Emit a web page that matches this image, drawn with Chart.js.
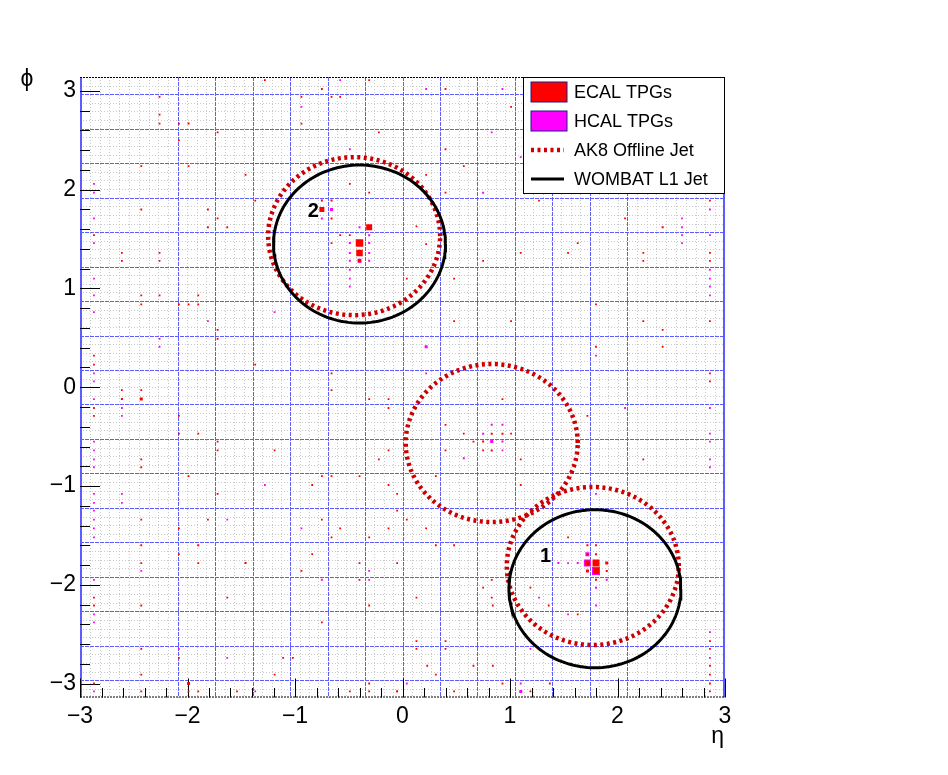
<!DOCTYPE html>
<html>
<head>
<meta charset="utf-8">
<script src="https://cdn.jsdelivr.net/npm/chart.js@4.4.1/dist/chart.umd.min.js"></script>
<style>
  html, body { margin: 0; background: #fff; }
  canvas { display: block; }
</style>
</head>
<body>
<canvas id="evt" width="948" height="775"></canvas>
<script>
// TPG hits: [eta, phi, Et]
const ecalHits = [
  [-1.28, 3.11, 1], [-0.75, 3.02, 1], [-0.31, 3.11, 1],
  [-2.26, 2.94, 1], [-0.94, 2.94, 1], [-0.66, 2.94, 1], [-0.58, 2.94, 1],
  [-2.26, 2.76, 1], [-2.26, 2.67, 1], [-2.08, 2.67, 1], [-1.99, 2.67, 2], [-0.94, 2.67, 1],
  [-1.72, 2.58, 1], [-0.22, 2.58, 1], [-2.08, 2.50, 1],
  [-2.43, 2.24, 1], [-1.99, 2.24, 1], [-1.46, 2.15, 1], [-0.49, 2.06, 1], [-0.31, 1.97, 1],
  [-1.37, 1.89, 1], [-2.43, 1.80, 1], [-1.81, 1.80, 1], [-1.72, 1.71, 1], [-1.81, 1.62, 1], [-1.63, 1.62, 1],
  [-2.87, 1.54, 1], [-2.61, 1.36, 1], [-2.26, 1.36, 1], [-2.61, 1.28, 1], [-2.26, 1.28, 1],
  [-2.43, 0.93, 1], [-2.26, 0.93, 1], [-1.90, 0.93, 1], [-2.43, 0.84, 1], [-2.08, 0.84, 1], [-1.99, 0.84, 1], [-1.90, 0.84, 1],
  [-1.72, 0.58, 1], [-1.72, 0.49, 1], [-2.87, 0.32, 1], [-2.87, 0.23, 1], [-1.37, 0.23, 1], [-0.66, 0.14, 1],
  // around jet 2
  [-0.75, 1.89, 2], [-0.66, 1.89, 2], [-0.75, 1.80, 5], [-0.66, 1.71, 2], [-0.31, 1.62, 6],
  [-0.58, 1.54, 1], [-0.49, 1.54, 1], [-0.66, 1.46, 1], [-0.40, 1.46, 7.5], [-0.40, 1.36, 6.5], [-0.40, 1.28, 3],
  // upper right
  [0.40, 3.02, 1], [1.01, 2.84, 1], [0.40, 2.41, 1], [0.57, 2.24, 1], [0.22, 2.15, 1], [0.40, 1.97, 1],
  [1.27, 1.89, 1], [2.86, 1.89, 1], [2.07, 1.71, 1], [0.13, 1.63, 1], [2.42, 1.62, 2], [0.22, 1.45, 1], [1.63, 1.46, 1],
  [1.10, 1.36, 1], [1.54, 1.36, 1], [2.24, 1.36, 1], [2.86, 1.36, 1], [0.75, 1.28, 1], [2.24, 1.28, 1], [2.86, 1.28, 1],
  [0.04, 1.10, 1], [0.48, 1.10, 1], [1.80, 0.84, 1], [0.48, 0.67, 1], [1.01, 0.67, 1], [2.24, 0.67, 1], [2.86, 0.67, 1],
  [2.42, 0.58, 1], [1.80, 0.41, 1], [2.42, 0.41, 1], [2.86, 0.14, 1], [2.86, 0.06, 1],
  // lower left
  [-2.61, -0.03, 1], [-2.43, -0.03, 1], [-2.61, -0.12, 2], [-2.43, -0.12, 3], [-0.66, -0.03, 1],
  [-0.31, -0.12, 1], [-0.13, -0.12, 1], [-2.87, -0.21, 1], [-0.13, -0.21, 1], [-2.87, -0.29, 1], [-2.08, -0.29, 1],
  [-2.08, -0.47, 1], [-1.90, -0.47, 1], [-1.72, -0.55, 1], [-1.72, -0.64, 1], [-1.19, -0.64, 1], [-0.13, -0.64, 1],
  [-2.43, -0.73, 1], [-2.43, -0.81, 1], [-0.22, -0.73, 1], [-1.99, -0.90, 1], [-0.75, -0.90, 1], [-0.66, -0.90, 1],
  [-0.40, -0.90, 1], [-0.84, -0.99, 1], [-0.13, -0.99, 1], [-1.72, -1.08, 1], [-0.05, -1.08, 1], [-0.05, -1.25, 1],
  [-2.43, -1.34, 1], [-1.81, -1.34, 1], [-0.75, -1.34, 1], [-2.08, -1.43, 1], [-0.58, -1.43, 1], [-0.13, -1.43, 1],
  [-0.66, -1.52, 1], [-0.31, -1.52, 1], [-2.43, -1.60, 1], [-1.90, -1.60, 2], [-2.08, -1.69, 1], [-0.84, -1.69, 1],
  [-2.43, -1.78, 1], [-1.90, -1.78, 1], [-1.46, -1.78, 2], [-0.40, -1.78, 1], [-0.05, -1.78, 1], [-0.94, -1.86, 1],
  [-0.40, -1.95, 1], [-2.87, -2.13, 1], [-2.87, -2.21, 1], [-1.63, -2.13, 1], [-2.43, -2.21, 1], [-0.31, -2.21, 1],
  [-0.75, -2.38, 1], [-2.43, -2.65, 1], [-2.08, -2.74, 1], [-1.11, -2.74, 1], [-1.02, -2.74, 1], [-2.43, -2.91, 1],
  [-1.19, -2.91, 1], [-1.99, -3.00, 3], [-2.87, -3.00, 1], [-0.31, -3.00, 1], [-2.43, -3.08, 1], [-1.99, -3.08, 1],
  [-1.90, -3.08, 1], [-1.54, -3.08, 1], [-0.49, -3.08, 1], [-0.31, -3.08, 1], [-0.05, -3.08, 1],
  // middle cluster
  [0.83, -0.47, 2], [0.93, -0.47, 2], [1.01, -0.47, 1], [0.75, -0.55, 2], [0.66, -0.55, 1], [0.83, -0.64, 2], [0.75, -0.64, 1],
  // lower right
  [0.93, -0.12, 1], [1.72, -0.29, 1], [0.40, -0.38, 1], [0.57, -0.47, 1], [0.40, -0.64, 1], [1.10, -0.73, 1],
  [2.24, -0.73, 1], [0.31, -0.90, 1], [1.10, -0.99, 1], [0.04, -1.34, 1], [0.22, -1.43, 1], [0.31, -1.60, 1],
  [0.48, -1.60, 1], [1.54, -1.52, 1], [0.83, -1.95, 1], [0.75, -2.03, 1], [0.83, -2.13, 1], [1.19, -2.03, 1],
  [1.36, -2.21, 1], [0.13, -2.13, 1], [0.84, -2.21, 1], [1.63, -2.30, 1], [0.13, -2.57, 1], [0.13, -2.65, 1],
  [0.40, -2.57, 1], [0.40, -2.65, 1], [0.23, -2.82, 1], [0.31, -2.91, 1], [0.66, -2.82, 1], [0.84, -2.82, 1],
  [1.37, -3.00, 1], [0.48, -3.08, 1], [0.93, -3.00, 1], [1.19, -3.08, 1], [-0.05, -3.08, 1],
  [2.86, -2.57, 1], [2.86, -2.65, 1], [2.86, -2.82, 1], [2.86, -2.91, 1], [2.86, -3.00, 1], [2.86, -3.08, 1],
  // around jet 1
  [1.72, -1.60, 2], [1.80, -1.60, 1], [1.72, -1.69, 2], [1.80, -1.69, 2], [1.72, -1.78, 5], [1.80, -1.78, 7],
  [1.90, -1.78, 3], [1.72, -1.86, 3], [1.80, -1.86, 6], [1.90, -1.86, 2], [1.80, -1.95, 2]
];

const hcalHits = [
  [-0.58, 3.11, 1], [-0.94, 2.84, 1], [-0.49, 2.41, 1],
  [-2.87, 2.06, 1], [-2.87, 1.97, 1], [-2.87, 1.71, 1], [-2.87, 1.46, 1],
  [-2.87, 1.10, 1], [-2.87, 0.93, 1], [-2.87, 0.76, 1], [-1.81, 0.67, 1], [-1.19, 0.76, 1],
  [-2.26, 0.49, 1], [-2.26, 0.41, 1], [-2.87, 0.14, 1], [-2.87, 0.06, 1],
  // around jet 2
  [-0.66, 1.80, 3], [-0.75, 1.71, 2], [-0.40, 1.62, 2], [-0.31, 1.54, 2],
  [-0.49, 1.46, 2], [-0.31, 1.46, 2], [-0.49, 1.36, 2], [-0.31, 1.36, 2],
  [-0.40, 1.28, 4], [-0.49, 1.28, 2], [-0.31, 1.28, 2], [-0.49, 1.19, 1], [-0.49, 1.10, 1], [-0.49, 1.02, 1],
  // upper right
  [0.22, 3.02, 1], [0.93, 3.02, 1], [0.83, 2.58, 1], [1.10, 2.33, 1], [0.75, 1.97, 2],
  [2.60, 1.71, 1], [2.60, 1.62, 1], [2.60, 1.54, 1], [2.60, 1.46, 1],
  [2.86, 1.80, 1], [2.86, 1.54, 1], [2.86, 1.19, 1], [2.86, 1.10, 1], [2.86, 1.02, 1], [2.86, 0.93, 1],
  [1.80, 0.32, 1], [0.22, 0.41, 3], [0.22, 0.14, 1],
  // lower left
  [-2.87, -0.12, 1], [-2.61, -0.21, 1], [-2.61, -0.29, 1], [-2.87, -0.55, 1], [-2.87, -0.64, 1],
  [-2.87, -0.73, 1], [-2.87, -0.81, 1], [-1.28, -0.99, 1], [-2.87, -1.08, 1], [-2.61, -1.08, 1],
  [-2.87, -1.17, 1], [-2.61, -1.17, 1], [-2.87, -1.25, 1], [-2.87, -1.34, 1], [-2.87, -1.43, 1],
  [-2.87, -1.52, 1], [-1.63, -1.34, 1], [-0.94, -1.43, 1], [-2.43, -1.86, 1], [-0.31, -1.86, 1],
  [-2.87, -1.95, 1], [-0.75, -1.95, 2], [-0.31, -1.95, 1], [-2.87, -2.30, 1], [-2.87, -2.38, 1],
  [-2.08, -2.65, 1], [-1.63, -2.74, 1], [-2.87, -3.08, 1], [-1.37, -3.08, 1],
  // middle cluster
  [0.83, -0.38, 2], [0.93, -0.38, 2], [0.75, -0.47, 2], [0.83, -0.55, 3], [0.93, -0.55, 2], [0.93, -0.64, 1], [0.57, -0.72, 2],
  // lower right
  [2.07, -0.21, 1], [1.80, -1.08, 1], [1.27, -2.13, 1], [1.54, -2.30, 1], [1.80, -2.21, 1], [1.19, -2.65, 1],
  [1.10, -3.08, 3], [1.10, -3.00, 1], [0.04, -3.00, 1],
  [2.86, -0.21, 1], [2.86, -0.47, 1], [2.86, -0.55, 1], [2.86, -0.73, 1], [2.86, -0.81, 1],
  [2.86, -2.48, 1], [2.86, -2.74, 1],
  // around jet 1
  [1.72, -1.69, 4], [1.72, -1.78, 7], [1.80, -1.86, 8], [1.63, -1.78, 2], [1.54, -1.78, 1], [1.45, -1.78, 2],
  [1.80, -2.03, 2], [1.90, -1.95, 2]
];

// jets (cone R = 0.8)
const offlineJetEta = [-0.45, 0.83, 1.77];
const offlineJetPhi = [1.53, -0.565, -1.81];
const l1JetEta = [1.79, -0.40];
const l1JetPhi = [-2.04, 1.45];
const jetRadius = 0.8;

const jetLabelText = ['1', '2'];
const jetLabelEta = [1.33, -0.83];
const jetLabelPhi = [-1.71, 1.78];

const xTickValues = [-3, -2, -1, 0, 1, 2, 3];
const yTickValues = [-3, -2, -1, 0, 1, 2, 3];
const legendLabels = ['ECAL TPGs', 'HCAL TPGs', 'AK8 Offline Jet', 'WOMBAT L1 Jet'];

// calorimeter region / tower boundaries
const regionEtaEdges = [-3, -2.088, -1.74, -1.392, -1.044, -0.696, -0.348, 0,
  0.348, 0.696, 1.044, 1.392, 1.74, 2.088, 3];
const towerEtaEdges = [];
for (let i = 0; i < regionEtaEdges.length - 1; i++) {
  const lo = regionEtaEdges[i], hi = regionEtaEdges[i + 1];
  const n = (hi - lo) > 0.5 ? 10 : 4;
  for (let k = 1; k < n; k++) towerEtaEdges.push(lo + (hi - lo) * k / n);
}
const towerPhiEdges = [], regionPhiEdges = [];
for (let k = -35; k <= 35; k++) {
  if (((k - 2) % 4 + 4) % 4 === 0) regionPhiEdges.push(k * Math.PI / 36);
  else towerPhiEdges.push(k * Math.PI / 36);
}

const FONT = "'Liberation Sans', Arial, Helvetica, sans-serif";
const ECAL_COLOR = '#ff0000';
const HCAL_COLOR = '#ff00ff';
const OFFLINE_COLOR = '#cc0000';
const PX_PER_GEV = 1;
const MIN_BOX_PX = 1.8;

const fmt = v => (v < 0 ? '\u2212' + (-v) : String(v));

function hitPoints(hits) {
  return hits.map(h => ({ x: h[0], y: h[1], et: h[2] }));
}

function cone(eta, phi) {
  const pts = [];
  for (let i = 0; i <= 144; i++) {
    const t = i / 144 * 2 * Math.PI;
    pts.push({ x: eta + jetRadius * Math.cos(t), y: phi + jetRadius * Math.sin(t) });
  }
  return pts;
}

function seg(ctx, x1, y1, x2, y2) {
  ctx.beginPath();
  ctx.moveTo(x1, y1);
  ctx.lineTo(x2, y2);
  ctx.stroke();
}

const boxRadius = c => (c.raw ? Math.max(MIN_BOX_PX, c.raw.et * PX_PER_GEV) / Math.SQRT2 : 0);

const datasets = [
  { label: legendLabels[0], data: hitPoints(ecalHits), pointStyle: 'rect', backgroundColor: ECAL_COLOR,
    borderWidth: 0, pointRadius: boxRadius, pointHoverRadius: boxRadius },
  { label: legendLabels[1], data: hitPoints(hcalHits), pointStyle: 'rect', backgroundColor: HCAL_COLOR,
    borderWidth: 0, pointRadius: boxRadius, pointHoverRadius: boxRadius }
];
l1JetEta.forEach((e, i) => datasets.push({
  type: 'line', label: legendLabels[3], data: cone(e, l1JetPhi[i]), showLine: true, fill: false,
  borderColor: '#000', borderWidth: 3, pointRadius: 0, tension: 0
}));
offlineJetEta.forEach((e, i) => datasets.push({
  type: 'line', label: legendLabels[2], data: cone(e, offlineJetPhi[i]), showLine: true, fill: false,
  borderColor: OFFLINE_COLOR, borderWidth: 4.5, borderDash: [3, 3.5], pointRadius: 0, tension: 0
}));

const rootFrame = {
  id: 'rootFrame',
  beforeDatasetsDraw(chart) {
    const { ctx, chartArea: a, scales: { x, y } } = chart;
    ctx.save();
    ctx.lineWidth = 1;
    // trigger tower grid
    ctx.strokeStyle = '#c8c8c8';
    ctx.setLineDash([1, 2]);
    towerEtaEdges.forEach(v => { const p = Math.round(x.getPixelForValue(v)) + 0.5; seg(ctx, p, a.top, p, a.bottom); });
    towerPhiEdges.forEach(v => { const p = Math.round(y.getPixelForValue(v)) + 0.5; seg(ctx, a.left, p, a.right, p); });
    // region grid
    ctx.strokeStyle = '#5c5cff';
    ctx.setLineDash([4, 1]);
    regionEtaEdges.slice(1, -1).forEach(v => { const p = Math.round(x.getPixelForValue(v)) + 0.5; seg(ctx, p, a.top, p, a.bottom); });
    regionPhiEdges.forEach(v => { const p = Math.round(y.getPixelForValue(v)) + 0.5; seg(ctx, a.left, p, a.right, p); });
    // frame
    ctx.setLineDash([]);
    ctx.lineWidth = 2;
    seg(ctx, a.left + 1, a.top, a.left + 1, a.bottom);
    seg(ctx, a.right - 1, a.top, a.right - 1, a.bottom);
    ctx.lineWidth = 1;
    ctx.strokeStyle = '#000';
    ctx.setLineDash([2, 1]);
    seg(ctx, a.left, a.top + 0.5, a.right, a.top + 0.5);
    seg(ctx, a.left, a.bottom - 0.5, a.right, a.bottom - 0.5);
    // axis ticks (inside the frame)
    ctx.setLineDash([]);
    for (let i = -15; i <= 15; i++) {
      const major = i % 5 === 0;
      const px = Math.round(x.getPixelForValue(i / 5)) + 0.5;
      seg(ctx, px, a.bottom, px, a.bottom - (major ? 19 : 9.5));
      const py = Math.round(y.getPixelForValue(i / 5)) + 0.5;
      seg(ctx, a.left, py, a.left + (major ? 20 : 10), py);
    }
    ctx.restore();
  },
  afterDatasetsDraw(chart) {
    const { ctx, chartArea: a, scales: { x, y } } = chart;
    ctx.save();
    // jet labels
    ctx.fillStyle = '#000';
    ctx.font = 'bold 20px ' + FONT;
    ctx.textAlign = 'center';
    ctx.textBaseline = 'middle';
    jetLabelText.forEach((t, i) => ctx.fillText(t, x.getPixelForValue(jetLabelEta[i]), y.getPixelForValue(jetLabelPhi[i])));

    // axis titles
    ctx.font = '23px ' + FONT;
    ctx.textAlign = 'right';
    ctx.textBaseline = 'alphabetic';
    ctx.fillText('\u03b7', a.right - 1, 743);
    ctx.textAlign = 'center';
    ctx.textBaseline = 'middle';
    ctx.fillText('\u03d5', 27, 80);

    // legend
    const x0 = a.right - 201.5, y0 = a.top + 0.5, w = 201, h = 116;
    ctx.fillStyle = '#fff';
    ctx.fillRect(x0, y0, w, h);
    ctx.strokeStyle = '#000';
    ctx.lineWidth = 1;
    ctx.strokeRect(x0, y0, w, h);
    const sx = x0 + 7.5;
    legendLabels.forEach((lab, i) => {
      const cy = y0 + 14.5 + i * 29;
      if (i < 2) {
        ctx.fillStyle = i === 0 ? ECAL_COLOR : HCAL_COLOR;
        ctx.fillRect(sx, cy - 10, 36, 20);
        ctx.strokeStyle = '#1c1c8a';
        ctx.strokeRect(sx, cy - 10, 36, 20);
      } else {
        ctx.beginPath();
        ctx.moveTo(sx, cy);
        ctx.lineTo(sx + 33, cy);
        if (i === 2) {
          ctx.strokeStyle = OFFLINE_COLOR; ctx.lineWidth = 4.5; ctx.setLineDash([3, 3.5]);
        } else {
          ctx.strokeStyle = '#000'; ctx.lineWidth = 3; ctx.setLineDash([]);
        }
        ctx.stroke();
        ctx.setLineDash([]);
        ctx.lineWidth = 1;
      }
      ctx.fillStyle = '#000';
      ctx.font = '18px ' + FONT;
      ctx.textAlign = 'left';
      ctx.textBaseline = 'middle';
      ctx.fillText(lab, x0 + 50.5, cy + 1);
    });
    ctx.restore();
  }
};

new Chart(document.getElementById('evt'), {
  type: 'scatter',
  data: { datasets },
  options: {
    responsive: false,
    animation: false,
    events: [],
    devicePixelRatio: 1,
    layout: { padding: { top: 77, right: 223, bottom: 0, left: 0 } },
    plugins: { legend: { display: false }, tooltip: { enabled: false } },
    scales: {
      x: {
        type: 'linear', min: -3, max: 3,
        grid: { display: false, drawTicks: false }, border: { display: false },
        afterBuildTicks: s => { s.ticks = xTickValues.map(v => ({ value: v })); },
        afterFit: s => { s.height = 77.5; },
        ticks: { autoSkip: false, maxRotation: 0, padding: 5, color: '#000',
          font: { family: FONT, size: 23 }, callback: v => fmt(v) }
      },
      y: {
        type: 'linear', min: -Math.PI, max: Math.PI,
        grid: { display: false, drawTicks: false }, border: { display: false },
        afterBuildTicks: s => { s.ticks = yTickValues.map(v => ({ value: v })); },
        afterFit: s => { s.width = 80; },
        ticks: { autoSkip: false, padding: 4, color: '#000',
          font: { family: FONT, size: 23 }, callback: v => fmt(v) }
      }
    }
  },
  plugins: [rootFrame]
});
</script>
</body>
</html>
